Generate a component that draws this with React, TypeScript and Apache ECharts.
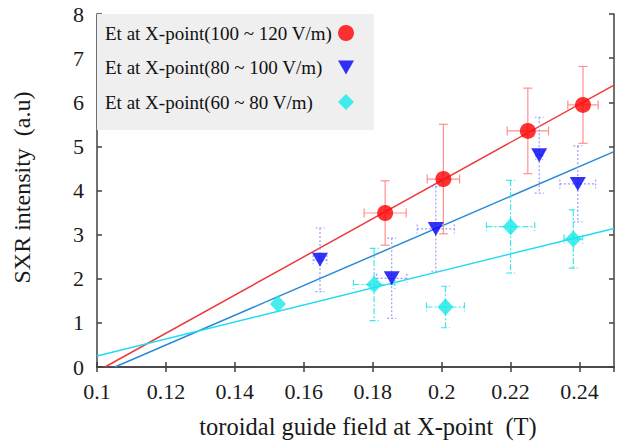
import React, { useEffect, useRef } from "react";
import * as echarts from "echarts";

const FONT = "Liberation Serif";

const seriesNames = [
  "Et at X-point(100 ~ 120 V/m)",
  "Et at X-point(80 ~ 100 V/m)",
  "Et at X-point(60 ~ 80 V/m)",
];

// Red circles (100 ~ 120 V/m)
const redX = [0.1836, 0.2005, 0.225, 0.241];
const redY = [3.49, 4.26, 5.35, 5.94];
const redXErr = [0.0061, 0.0047, 0.006, 0.0044];
const redYErr = [0.73, 1.24, 0.97, 0.87];

// Blue triangles (80 ~ 100 V/m)
const blueX = [0.1647, 0.1855, 0.1983, 0.2283, 0.2395];
const blueY = [2.43, 2.01, 3.13, 4.8, 4.15];
const blueXErr = [0.002, 0.0044, 0.0054, 0.001, 0.0052];
const blueYErr = [0.72, 0.91, 0.96, 0.86, 0.86];

// Cyan diamonds (60 ~ 80 V/m)
const cyanX = [0.1525, 0.1804, 0.2011, 0.22, 0.2382];
const cyanY = [1.43, 1.87, 1.36, 3.18, 2.9];
const cyanXErr = [0, 0.006, 0.0055, 0.007, 0.0027];
const cyanYErr = [0, 0.82, 0.47, 1.05, 0.66];

// Linear fit lines (end points)
const redFit = [
  [0.1023, 0],
  [0.25, 6.39],
];
const blueFit = [
  [0.1052, 0],
  [0.25, 4.88],
];
const cyanFit = [
  [0.1, 0.25],
  [0.25, 3.14],
];

const xMin = 0.1;
const xMax = 0.25;
const xStep = 0.02;
const yMin = 0;
const yMax = 8;
const yStep = 1;

const zip = (a: number[], b: number[]) => a.map((v, i) => [v, b[i]]);
const zip4 = (a: number[], b: number[], c: number[], d: number[]) =>
  a.map((v, i) => [v, b[i], c[i], d[i]]);

function errorRenderer(color: string, dash: number[] | null) {
  return (params: any, api: any) => {
    const x = api.value(0);
    const y = api.value(1);
    const xe = api.value(2);
    const ye = api.value(3);
    const style: any = { stroke: color, lineWidth: 1.2, fill: null };
    if (dash) style.lineDash = dash;
    const children: any[] = [];
    const cap = 4.5;
    const ln = (x1: number, y1: number, x2: number, y2: number) => ({
      type: "line",
      shape: { x1, y1, x2, y2 },
      style,
    });
    if (ye > 0) {
      const t = api.coord([x, y + ye]);
      const b = api.coord([x, y - ye]);
      children.push(ln(t[0], t[1], b[0], b[1]));
      children.push(ln(t[0] - cap, t[1], t[0] + cap, t[1]));
      children.push(ln(b[0] - cap, b[1], b[0] + cap, b[1]));
    }
    if (xe > 0) {
      const l = api.coord([x - xe, y]);
      const r = api.coord([x + xe, y]);
      children.push(ln(l[0], l[1], r[0], r[1]));
      children.push(ln(l[0], l[1] - cap, l[0], l[1] + cap));
      children.push(ln(r[0], r[1] - cap, r[0], r[1] + cap));
    }
    return { type: "group", children };
  };
}

const axisLineStyle = { color: "#404040", width: 1.5 };
const tickLabelStyle = { fontFamily: FONT, fontSize: 22, color: "#1a1a1a" };
const titleStyle = { fontFamily: FONT, fontSize: 24.5, color: "#1a1a1a" };

export default function App() {
  const ref = useRef<HTMLDivElement>(null);
  useEffect(() => {
    const chart = echarts.init(ref.current!, null, { renderer: "svg" });
    const option: any = {
      animation: false,
      backgroundColor: "#ffffff",
      textStyle: { fontFamily: FONT },
      grid: {
        left: 97,
        right: 5,
        top: 14,
        bottom: 74,
        containLabel: false,
        outerBoundsMode: "none",
      },
      graphic: [
        {
          type: "rect",
          left: 97,
          top: 14,
          shape: { width: 277, height: 116 },
          style: { fill: "#efefef" },
          z: 1,
          silent: true,
        },
      ],
      legend: {
        data: seriesNames,
        orient: "vertical",
        left: 105,
        top: 23.5,
        align: "right",
        padding: 0,
        itemGap: 15.5,
        itemWidth: 16,
        itemHeight: 16,
        selectedMode: false,
        z: 10,
        formatter: (name: string) => "{t|" + name + "}",
        textStyle: {
          fontFamily: FONT,
          fontSize: 19,
          color: "#111",
          rich: {
            t: {
              fontFamily: FONT,
              fontSize: 19,
              color: "#111",
              width: 228,
              align: "left",
              lineHeight: 20,
            },
          },
        },
      },
      xAxis: [
        {
          type: "value",
          min: xMin,
          max: xMax,
          interval: xStep,
          name: "toroidal guide field at X-point  (T)",
          nameLocation: "middle",
          nameGap: 47,
          nameTextStyle: { ...titleStyle, padding: [0, 0, 0, 25] },
          axisLine: { show: true, lineStyle: axisLineStyle },
          axisTick: { show: true, inside: true, length: 5, lineStyle: axisLineStyle },
          axisLabel: { ...tickLabelStyle, margin: 13, showMaxLabel: false },
          splitLine: { show: false },
        },
        {
          type: "value",
          position: "top",
          min: xMin,
          max: xMax,
          interval: xStep,
          axisLine: { show: true, lineStyle: axisLineStyle },
          axisTick: { show: true, inside: true, length: 5, lineStyle: axisLineStyle },
          axisLabel: { show: false },
          splitLine: { show: false },
        },
      ],
      yAxis: [
        {
          type: "value",
          min: yMin,
          max: yMax,
          interval: yStep,
          name: "SXR intensity  (a.u)",
          nameLocation: "middle",
          nameGap: 63,
          nameTextStyle: { ...titleStyle, fontSize: 24, padding: [0, 0, 0, 6] },
          axisLine: { show: true, lineStyle: axisLineStyle },
          axisTick: { show: true, inside: true, length: 5, lineStyle: axisLineStyle },
          axisLabel: { ...tickLabelStyle, margin: 13 },
          splitLine: { show: false },
        },
        {
          type: "value",
          position: "right",
          min: yMin,
          max: yMax,
          interval: yStep,
          axisLine: { show: true, lineStyle: axisLineStyle },
          axisTick: { show: true, inside: true, length: 5, lineStyle: axisLineStyle },
          axisLabel: { show: false },
          splitLine: { show: false },
        },
      ],
      series: [
        {
          type: "line",
          data: redFit,
          symbol: "none",
          lineStyle: { color: "#ee3a3a", width: 1.5 },
          z: 2,
        },
        {
          type: "line",
          data: blueFit,
          symbol: "none",
          lineStyle: { color: "#2a8ad6", width: 1.5 },
          z: 2,
        },
        {
          type: "line",
          data: cyanFit,
          symbol: "none",
          lineStyle: { color: "#1fdcf2", width: 1.5 },
          z: 2,
        },
        {
          type: "custom",
          data: zip4(redX, redY, redXErr, redYErr),
          encode: { x: 0, y: 1 },
          renderItem: errorRenderer("#ff8f8f", null),
          z: 3,
        },
        {
          type: "custom",
          data: zip4(blueX, blueY, blueXErr, blueYErr),
          encode: { x: 0, y: 1 },
          renderItem: errorRenderer("#9b9bff", [2, 2]),
          z: 3,
        },
        {
          type: "custom",
          data: zip4(cyanX, cyanY, cyanXErr, cyanYErr),
          encode: { x: 0, y: 1 },
          renderItem: errorRenderer("#3fe6ea", [6, 2, 2, 2]),
          z: 3,
        },
        {
          name: seriesNames[0],
          type: "scatter",
          data: zip(redX, redY),
          symbol: "circle",
          symbolSize: 16,
          itemStyle: { color: "#ff0000" },
          z: 5,
        },
        {
          name: seriesNames[1],
          type: "scatter",
          data: zip(blueX, blueY),
          symbol: "path://M0,0L10,0L5,8.6Z",
          symbolSize: [16, 14],
          itemStyle: { color: "#0000f5" },
          z: 5,
        },
        {
          name: seriesNames[2],
          type: "scatter",
          data: zip(cyanX, cyanY),
          symbol: "diamond",
          symbolSize: [16, 17],
          itemStyle: { color: "#16e8e8" },
          z: 5,
        },
      ],
    };
    chart.setOption(option);
    return () => chart.dispose();
  }, []);
  return (
    <div
      ref={ref}
      style={{ position: "fixed", left: 0, top: 0, width: 619, height: 441 }}
    />
  );
}
